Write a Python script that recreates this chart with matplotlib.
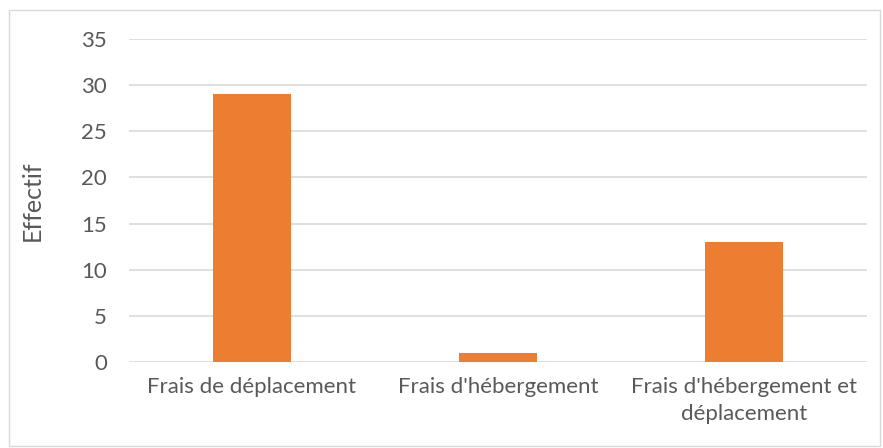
import matplotlib
matplotlib.use("Agg")
import matplotlib.pyplot as plt
import matplotlib.patches as mpatches

categories = ["Frais de déplacement", "Frais d'hébergement", "Frais d'hébergement et\ndéplacement"]
effectif = [29, 1, 13]
yticks = [0, 5, 10, 15, 20, 25, 30, 35]

W, H = 883, 448
fig = plt.figure(figsize=(W / 100, H / 100), dpi=100)
plt.rcParams["font.family"] = ["Lato", "DejaVu Sans"]

TXT = "#595959"
GRID = "#D9D9D9"

# outer chart border
fig.patches.append(mpatches.Rectangle((9 / W, 1 - 446 / H), 871 / W, 436 / H,
                                      transform=fig.transFigure, fill=False,
                                      edgecolor=GRID, linewidth=1.0))

ax = fig.add_axes([129 / W, 1 - 362 / H, 738 / W, 323 / H])
x = range(len(categories))
ax.bar(x, effectif, width=0.317, color="#ED7D31", zorder=3)

ax.set_xlim(-0.5, len(categories) - 0.5)
ax.set_ylim(0, 35)
ax.set_yticks(yticks)
ax.set_xticks(list(x))
ax.set_xticklabels(categories, fontsize=16, color=TXT, linespacing=1.4)
ax.tick_params(axis="y", labelsize=16, labelcolor=TXT, length=0, pad=16)
ax.tick_params(axis="x", length=0, pad=11)
ax.grid(axis="y", color=GRID, linewidth=1.2, zorder=0)
for s in ["top", "right", "left", "bottom"]:
    ax.spines[s].set_visible(False)
ax.set_ylabel("Effectif", fontsize=18, color=TXT, labelpad=27)

fig.savefig("out.png", dpi=100)
